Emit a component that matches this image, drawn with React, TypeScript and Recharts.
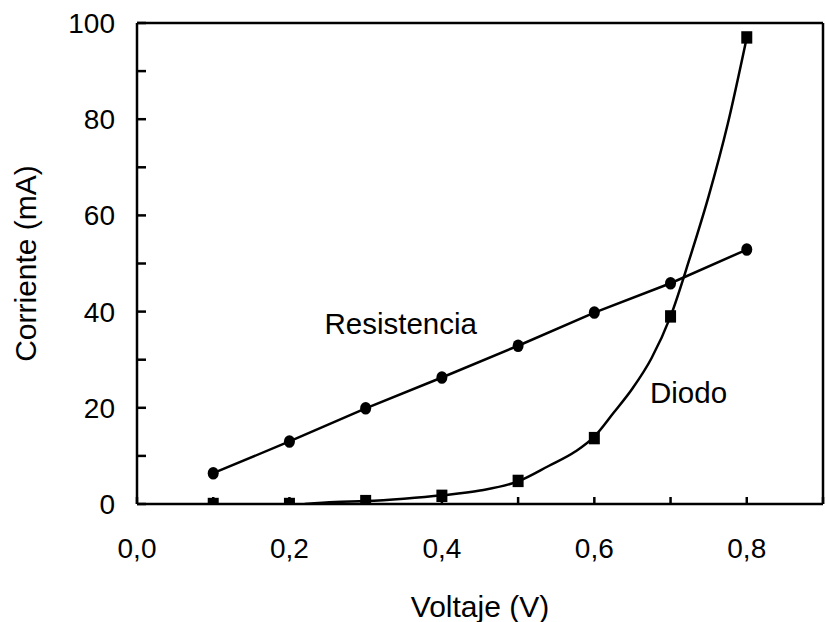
import React from 'react';
import { LineChart, Line, XAxis, YAxis, ReferenceDot, Label } from 'recharts';

// Measured data (Voltaje in V, Corriente in mA)
const voltage = [0.1, 0.2, 0.3, 0.4, 0.5, 0.6, 0.7, 0.8];
const resistencia = [6.4, 13.0, 19.9, 26.3, 32.9, 39.8, 45.9, 52.9];
const diodo = [0, 0, 0.6, 1.7, 4.8, 13.7, 39, 97];

// Fitted diode curve
const fitVoltage = [0.22, 0.26, 0.3, 0.35, 0.4, 0.45, 0.5, 0.54, 0.575, 0.6, 0.625, 0.65, 0.675, 0.7, 0.725, 0.75, 0.775, 0.8];
const fitCurrent = [0, 0.4, 0.6, 1.1, 1.8, 2.8, 4.7, 7.9, 10.9, 14.0, 18.9, 24.0, 30.3, 39, 51, 64, 79, 97];

const xTicks = [0, 0.1, 0.2, 0.3, 0.4, 0.5, 0.6, 0.7, 0.8, 0.9];
const xLabelTicks = [0, 0.2, 0.4, 0.6, 0.8];
const yTicks = [0, 10, 20, 30, 40, 50, 60, 70, 80, 90, 100];
const yLabelTicks = [0, 20, 40, 60, 80, 100];

const xTitle = 'Voltaje (V)';
const yTitle = 'Corriente (mA)';
const annotations = [
  { text: 'Resistencia', v: 0.246, i: 35.3 },
  { text: 'Diodo', v: 0.673, i: 21.0 },
];

const resData = voltage.map((v, k) => ({ v, i: resistencia[k] }));
const diodoData = voltage.map((v, k) => ({ v, i: diodo[k] }));
const fitData = fitVoltage.map((v, k) => ({ v, i: fitCurrent[k] }));

const FONT = '"Liberation Sans", Arial, Helvetica, sans-serif';
const SW = 2.5;

const fmtX = (v: number) =>
  xLabelTicks.some((t) => Math.abs(t - v) < 1e-6) ? v.toFixed(1).replace('.', ',') : '';
const fmtY = (v: number) => (yLabelTicks.includes(v) ? String(v) : '');

const CircleDot = (props: any) => {
  const { cx, cy, index } = props;
  if (cx == null || cy == null) return <g key={`c${index}`} />;
  return <ellipse key={`c${index}`} cx={cx} cy={cy} rx={5.5} ry={6.3} fill="#000" />;
};

const SquareDot = (props: any) => {
  const { cx, cy, index } = props;
  if (cx == null || cy == null) return <g key={`s${index}`} />;
  return <rect key={`s${index}`} x={cx - 5.5} y={cy - 6.2} width={11} height={12.4} fill="#000" />;
};

const XTitle = (props: any) => {
  const vb = props.viewBox || { x: 137, y: 504, width: 686, height: 118 };
  return (
    <text x={vb.x + vb.width / 2} y={vb.y + 113} textAnchor="middle" fontSize={30} fontFamily={FONT} fill="#000">
      {xTitle}
    </text>
  );
};

const YTitle = (props: any) => {
  const vb = props.viewBox || { x: 0, y: 23, width: 137, height: 481 };
  const cx = 36;
  const cy = vb.y + vb.height / 2;
  return (
    <text x={cx} y={cy} transform={`rotate(-90, ${cx}, ${cy})`} textAnchor="middle" fontSize={30} fontFamily={FONT} fill="#000">
      {yTitle}
    </text>
  );
};

const makeAnno = (text: string) => (props: any) => {
  const vb = props.viewBox || { x: 0, y: 0 };
  const w = vb.width || 0;
  const h = vb.height || 0;
  return (
    <text x={vb.x + w / 2} y={vb.y + h / 2} textAnchor="start" fontSize={29.5} fontFamily={FONT} fill="#000">
      {text}
    </text>
  );
};

const tickStyle = { fontSize: 28, fill: '#000', fontFamily: FONT };

export default function App() {
  return (
    <div style={{ position: 'absolute', left: 0, top: 0, width: 826, height: 622, background: '#fff' }}>
      <LineChart width={826} height={622} margin={{ top: 0, right: 0, bottom: 0, left: 0 }}>
        <XAxis
          xAxisId="b"
          type="number"
          dataKey="v"
          domain={[0, 0.9]}
          ticks={xTicks}
          interval={0}
          height={118}
          tickSize={-7}
          tickMargin={41}
          tickLine={{ stroke: '#000', strokeWidth: SW }}
          tick={tickStyle}
          tickFormatter={fmtX}
          axisLine={{ stroke: '#000', strokeWidth: SW }}
          allowDataOverflow
        >
          <Label content={<XTitle />} />
        </XAxis>
        <XAxis
          xAxisId="t"
          orientation="top"
          type="number"
          dataKey="v"
          domain={[0, 0.9]}
          height={23}
          tick={false}
          tickLine={false}
          axisLine={{ stroke: '#000', strokeWidth: SW }}
        />
        <YAxis
          yAxisId="l"
          type="number"
          dataKey="i"
          domain={[0, 100]}
          ticks={yTicks}
          interval={0}
          width={137}
          tickSize={-9}
          tickMargin={31}
          tickLine={{ stroke: '#000', strokeWidth: SW }}
          tick={tickStyle}
          tickFormatter={fmtY}
          axisLine={{ stroke: '#000', strokeWidth: SW }}
          allowDataOverflow
        >
          <Label content={<YTitle />} />
        </YAxis>
        <YAxis
          yAxisId="r"
          orientation="right"
          type="number"
          dataKey="i"
          domain={[0, 100]}
          width={3}
          tick={false}
          tickLine={false}
          axisLine={{ stroke: '#000', strokeWidth: SW }}
        />
        <Line
          xAxisId="b"
          yAxisId="l"
          data={fitData}
          dataKey="i"
          type="monotone"
          stroke="#000"
          strokeWidth={SW}
          dot={false}
          activeDot={false}
          isAnimationActive={false}
        />
        <Line
          xAxisId="b"
          yAxisId="l"
          data={diodoData}
          dataKey="i"
          stroke="none"
          strokeWidth={0}
          dot={<SquareDot />}
          activeDot={false}
          isAnimationActive={false}
        />
        <Line
          xAxisId="b"
          yAxisId="l"
          data={resData}
          dataKey="i"
          type="linear"
          stroke="#000"
          strokeWidth={SW}
          dot={<CircleDot />}
          activeDot={false}
          isAnimationActive={false}
        />
        {annotations.map((a) => (
          <ReferenceDot
            key={a.text}
            xAxisId="b"
            yAxisId="l"
            x={a.v}
            y={a.i}
            r={0}
            fill="none"
            stroke="none"
            label={<Label content={makeAnno(a.text)} />}
          />
        ))}
      </LineChart>
    </div>
  );
}
